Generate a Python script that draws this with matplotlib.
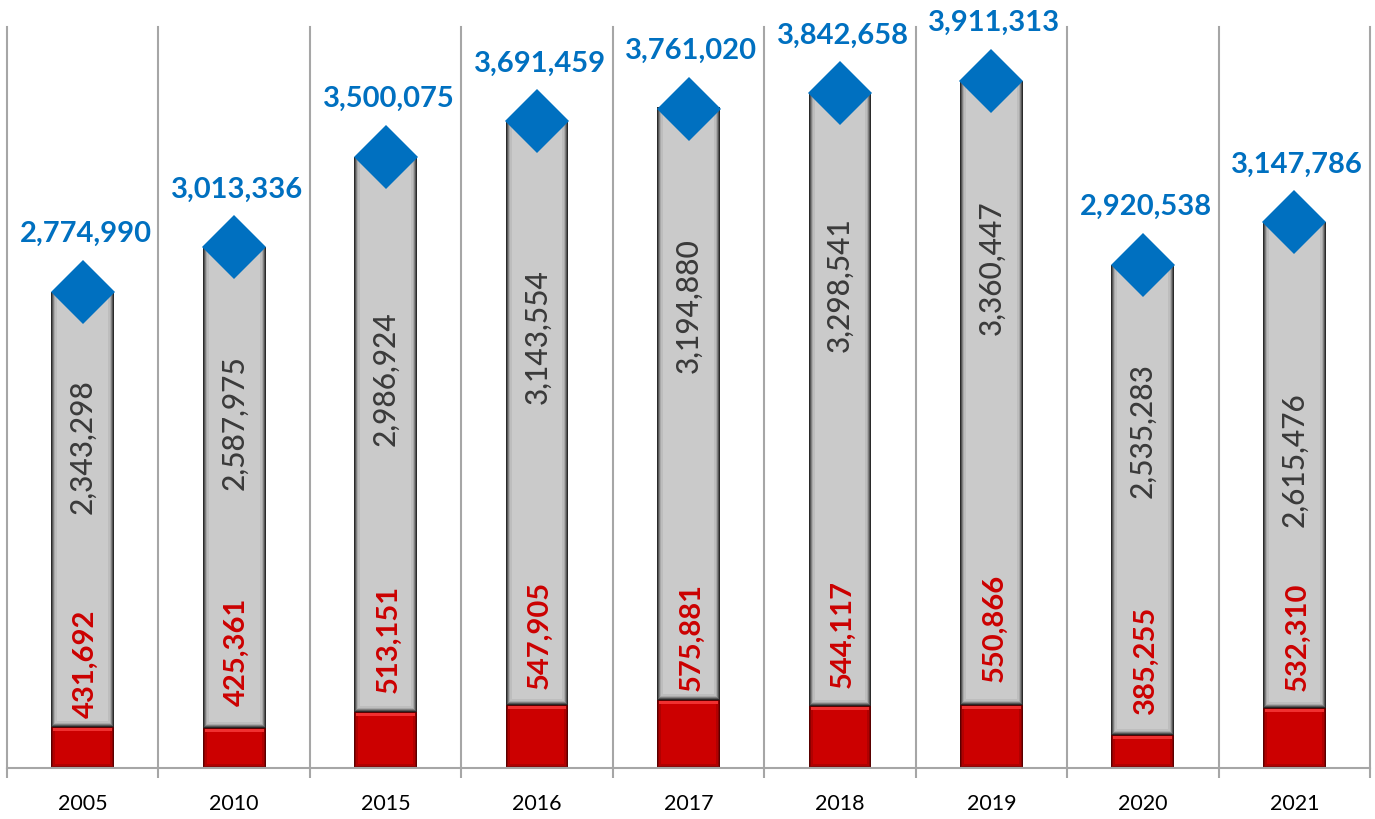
import matplotlib
matplotlib.use("Agg")
import matplotlib.pyplot as plt
import numpy as np

# ---- data ----
years = ["2005", "2010", "2015", "2016", "2017", "2018", "2019", "2020", "2021"]
red_values = [431692, 425361, 513151, 547905, 575881, 544117, 550866, 385255, 532310]
grey_values = [2343298, 2587975, 2986924, 3143554, 3194880, 3298541, 3360447, 2535283, 2615476]
totals = [2774990, 3013336, 3500075, 3691459, 3761020, 3842658, 3911313, 2920538, 3147786]

# ---- layout (label anchor heights in data units) ----
grey_label_y = [1939500, 2068900, 2305900, 2532200, 2699300, 2812400, 2904000, 2025800, 1869500]
red_label_y = [770400, 835000, 905100, 926600, 915800, 932000, 964300, 791900, 915800]

W, H = 1375, 819
fig = plt.figure(figsize=(W / 100, H / 100), dpi=100)
ax = fig.add_axes([7 / W, 51 / H, 1363 / W, 741 / H])

YMIN, YMAX = 210000, 4200000
ax.set_xlim(-0.5, len(years) - 0.5)
ax.set_ylim(YMIN, YMAX)

px_x = (len(years)) / 1363.0          # data units per pixel (x)
px_y = (YMAX - YMIN) / 741.0          # data units per pixel (y)

x = np.arange(len(years))
bw = 0.415


def bevel_bar(xs, bottoms, tops, colors, steps_px, zorder):
    for c, s in zip(colors, steps_px):
        w = bw - 2 * s * px_x
        b = [bt + s * px_y for bt in bottoms]
        h = [tp - s * px_y - bb for tp, bb in zip(tops, b)]
        ax.bar(xs, h, width=w, bottom=b, color=c, linewidth=0, zorder=zorder)
        zorder += 0.01


bottom_vals = [YMIN] * len(years)
red_tops = red_values
grey_tops = [r + g for r, g in zip(red_values, grey_values)]

# red bars (bevelled)
bevel_bar(x, bottom_vals, red_tops,
          ["#5a0000", "#8a0000", "#b00000", "#cc0000"],
          [0, 1, 2, 4], zorder=2)
# thin light highlight along the top of the red bars
ax.bar(x, [3 * px_y] * len(x), width=bw - 4 * px_x,
       bottom=[r - 4 * px_y for r in red_tops], color="#f03030",
       linewidth=0, zorder=2.2)
# grey bars (bevelled)
bevel_bar(x, red_tops, grey_tops,
          ["#2a2a2a", "#555555", "#808080", "#a8a8a8", "#bdbdbd", "#cacaca"],
          [0, 1, 2, 3, 4, 6], zorder=2)

# diamonds at totals
ax.plot(x, totals, linestyle="none", marker="D", markersize=33,
        color="#0070c0", markeredgewidth=0, zorder=5, clip_on=False)

FONT = "Lato"
for i in range(len(years)):
    ax.annotate(f"{totals[i]:,}", (x[i], totals[i]), xytext=(2, 36),
                textcoords="offset points", ha="center", va="baseline",
                fontsize=21, fontweight="bold", color="#0070c0",
                family=FONT, annotation_clip=False, zorder=6)
    ax.text(x[i], grey_label_y[i], f"{grey_values[i]:,}", rotation=90,
            ha="center", va="center", fontsize=21.5, fontweight="medium",
            color="#3a3a3a", family=FONT, zorder=6)
    ax.text(x[i] + 0.02, red_label_y[i], f"{red_values[i]:,}", rotation=90,
            ha="center", va="center", fontsize=21, fontweight="bold",
            color="#cc0000", family=FONT, zorder=6)

# axes styling
for s in ["top", "right", "left"]:
    ax.spines[s].set_visible(False)
ax.spines["bottom"].set_color("#a6a6a6")
ax.spines["bottom"].set_linewidth(1.5)
ax.set_yticks([])
ax.set_xticks(x)
ax.set_xticklabels(years, fontsize=15.5, family=FONT, color="#000000")
ax.tick_params(axis="x", which="major", length=0, pad=19)
bounds = np.arange(len(years) + 1) - 0.5
ax.set_xticks(bounds, minor=True)
ax.tick_params(axis="x", which="minor", length=7, width=1.5, color="#a6a6a6")
for b in bounds:
    ax.axvline(b, color="#a6a6a6", linewidth=1.5, zorder=1, clip_on=False)

fig.savefig("out.png", dpi=100)
